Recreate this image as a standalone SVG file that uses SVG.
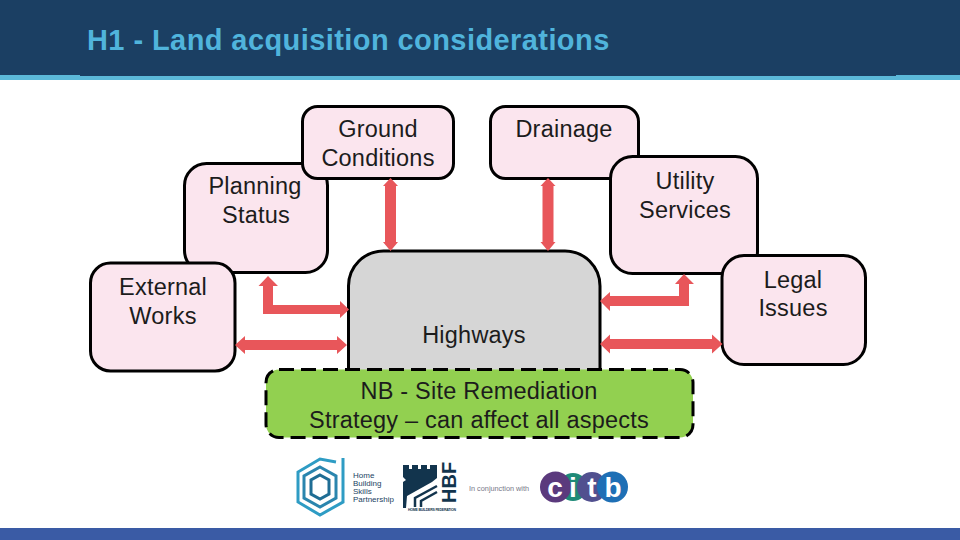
<svg xmlns="http://www.w3.org/2000/svg" width="960" height="540" viewBox="0 0 960 540">
<style>
text{font-family:"Liberation Sans",Arial,sans-serif;}
.n rect{fill:#FBE5EE;stroke:#000;stroke-width:3;}
.n text,.c text{font-size:23.5px;fill:#1c1c1c;text-anchor:middle;letter-spacing:.22px;}
.a{fill:#E8565A;}
</style>
<rect width="960" height="540" fill="#fff"/>
<rect id="header" width="960" height="76" fill="#1B3F63"/>
<rect x="0" y="75" width="80" height="5" fill="#5BB8D8"/>
<rect x="80" y="76" width="816" height="4" fill="#5BB8D8"/>
<rect x="896" y="75" width="64" height="5" fill="#5BB8D8"/>
<text x="87" y="50" font-size="29" font-weight="bold" letter-spacing=".42" fill="#50B4DC">H1 - Land acquisition considerations</text>
<rect id="footer" y="528" width="960" height="12" fill="#3A5BA5"/>
<g id="planning" class="n"><rect x="184.500" y="163.500" width="143" height="109" rx="22"/><text x="255" y="194">Planning</text><text x="256" y="223">Status</text></g>
<g id="ground" class="n"><rect x="302.500" y="106.500" width="151" height="72" rx="15"/><text x="378" y="137">Ground</text><text x="378" y="166">Conditions</text></g>
<g id="drainage" class="n"><rect x="490.500" y="106.500" width="148" height="72" rx="15"/><text x="564" y="137">Drainage</text></g>
<g id="utility" class="n"><rect x="610.500" y="156.500" width="147" height="117" rx="22"/><text x="685" y="189">Utility</text><text x="685" y="218">Services</text></g>
<g id="legal" class="n"><rect x="722" y="255.500" width="143.500" height="109" rx="22"/><text x="793" y="288">Legal</text><text x="793" y="316">Issues</text></g>
<g id="external" class="n"><rect x="90.500" y="263" width="144.500" height="108" rx="20"/><text x="163" y="295">External</text><text x="163" y="324">Works</text></g>
<g id="highways" class="n"><path d="M348.500 372V286a35 35 0 0 1 35-35H565a35 35 0 0 1 35 35V372Z" fill="#D6D6D6" stroke="#000" stroke-width="3"/><text x="474" y="343">Highways</text></g>
<g id="remediation" class="c"><rect x="266" y="369.500" width="427" height="68" rx="13" fill="#92D050" stroke="#000" stroke-width="3" stroke-dasharray="15 7"/><text x="479" y="399">NB - Site Remediation</text><text x="479" y="428">Strategy – can affect all aspects</text></g>
<g id="connectors" class="a">
<polygon points="390.500,178 398,186 396,186 396,242 398,242 390.500,251 383,242 385,242 385,186 383,186"/>
<polygon points="548,178 555.500,186 553.500,186 553.500,242 555.500,242 548,251 540.500,242 542.500,242 542.500,186 540.500,186"/>
<polygon points="235,345 245,336 245,340 337,340 337,336 347,345 337,354 337,350 245,350 245,354"/>
<polygon points="600,344 610,334.500 610,339 712,339 712,334.500 722.500,344 712,353.500 712,349 610,349 610,353.500"/>
<polygon points="268,276 278,286 273,286 273,305 340,305 340,301 349,309.500 340,318 340,314 263,314 263,286 258.500,286"/>
<polygon points="600,301 610,292 610,296 679,296 679,284 675,284 684,274 694,284 689,284 689,306 610,306 610,311"/>
</g>
<g id="logos">
<g fill="none" stroke-width="3">
<path d="M336 462L320 459L298 472V502L320 515L343 502V458" stroke="#2E9CC4" transform="translate(0 0)"/>
<polygon points="320,467 336,476 336,498 320,507 304,498 304,476" stroke="#2A85AE"/>
<polygon points="320,475 329,480 329,494 320,499 311,494 311,480" stroke="#1F6D94"/>
</g>
<g font-size="8" fill="#1B3F63"><text x="353" y="478">Home</text><text x="353" y="486">Building</text><text x="353" y="494">Skills</text><text x="353" y="502">Partnership</text></g>
<path d="M403 465h6v4h3v-4h6v4h3v-4h6v4h3v-4h7v13l-5 4-25 14-1 12h-3V482l3-2-3-3Z" fill="#12344D"/>
<g fill="none" stroke="#12344D" stroke-width="2.500"><path d="M437 486L415 498V507"/><path d="M437 492L421 501V507"/></g>
<text transform="translate(456 503) rotate(-90)" font-size="20" font-weight="bold" fill="#12344D">HBF</text>
<text x="408" y="511" font-size="3.500" font-weight="bold" fill="#12344D" textLength="48">HOME BUILDERS FEDERATION</text>
<text x="469" y="491" font-size="7.300" fill="#778">In conjunction with</text>
<circle cx="573" cy="487" r="14" fill="#1E8A78"/><circle cx="592" cy="487" r="15" fill="#51508F"/><circle cx="555.500" cy="487" r="15.500" fill="#5B3A7D"/><circle cx="612.500" cy="487" r="15.500" fill="#1E6FB5"/>
<g font-size="28" font-weight="bold" fill="#fff" text-anchor="middle"><text x="555" y="497">c</text><text x="573" y="497">i</text><text x="592" y="497">t</text><text x="613" y="497">b</text></g>
</g>
</svg>
